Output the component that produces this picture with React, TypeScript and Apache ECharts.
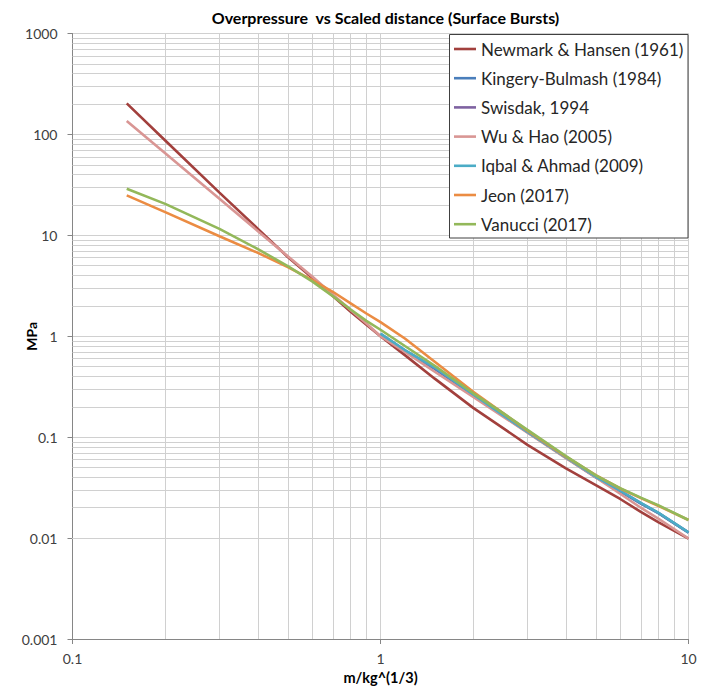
import React, { useEffect, useRef } from 'react';
import * as echarts from 'echarts';

// Scaled distance Z (m/kg^(1/3)) sample points
const xs = [0.15, 0.2, 0.3, 0.4, 0.5, 0.6, 0.7, 0.8, 0.9, 1, 1.2, 1.5, 2, 2.5, 3, 4, 5, 6, 7, 8, 10];

// Overpressure (MPa) per model
const newmark = [203, 87, 26.5, 11.6, 6.1, 3.8, 2.5, 1.75, 1.3, 1.0, 0.65, 0.38, 0.195, 0.123, 0.084, 0.049, 0.0335, 0.0244, 0.0182, 0.0143, 0.0099];
const kingery = [null, null, null, null, null, null, null, null, null, 1.04, 0.71, 0.475, 0.26, 0.163, 0.112, 0.0625, 0.040, 0.029, 0.022, 0.0176, 0.0113];
const swisdak = [null, null, null, null, null, null, null, null, null, 1.055, 0.725, 0.487, 0.264, 0.165, 0.113, 0.063, 0.0404, 0.0294, 0.0222, 0.0177, 0.0114];
const wuHao = [136, 65, 23, 11, 6.2, 3.9, 2.6, 1.82, 1.34, 1.0, 0.70, 0.445, 0.25, 0.16, 0.111, 0.062, 0.040, 0.0275, 0.020, 0.0155, 0.0099];
const iqbal = [null, null, null, null, null, null, null, null, null, 1.06, 0.73, 0.49, 0.265, 0.165, 0.113, 0.063, 0.0405, 0.0295, 0.0223, 0.0178, 0.0114];
const jeon = [24.9, 17.0, 9.8, 6.7, 4.85, 3.62, 2.76, 2.12, 1.68, 1.38, 0.95, 0.56, 0.282, 0.173, 0.116, 0.064, 0.042, 0.031, 0.0249, 0.0208, 0.0151];
const vanucci = [29.0, 20.5, 11.6, 7.3, 4.95, 3.5, 2.5, 1.84, 1.42, 1.16, 0.80, 0.51, 0.272, 0.173, 0.118, 0.065, 0.0418, 0.0313, 0.0252, 0.0211, 0.0151];

const seriesNames = [
  'Newmark & Hansen (1961)',
  'Kingery-Bulmash (1984)',
  'Swisdak, 1994',
  'Wu & Hao (2005)',
  'Iqbal & Ahmad (2009)',
  'Jeon (2017)',
  'Vanucci (2017)',
];
const seriesValues = [newmark, kingery, swisdak, wuHao, iqbal, jeon, vanucci];
const seriesColors = ['#A2403D', '#4A7EBB', '#7E62A1', '#D99694', '#4BACC6', '#EB8C43', '#93B85A'];

// Tick labels
const xTickLabels = ['0.1', '1', '10'];
const yTickLabels = ['0.001', '0.01', '0.1', '1', '10', '100', '1000'];

// Minor log grid positions
const xMinor = [0.2, 0.3, 0.4, 0.5, 0.6, 0.7, 0.8, 0.9, 2, 3, 4, 5, 6, 7, 8, 9];
const yDecades = [0.001, 0.01, 0.1, 1, 10, 100];
const minorMult = [2, 3, 4, 5, 6, 7, 8, 9];

const FONT = 'Lato';
const GRID = '#d0d0d0';
const AXIS = '#868686';

export default function App() {
  const ref = useRef<HTMLDivElement>(null);

  useEffect(() => {
    document.body.style.margin = '0';
    const chart = echarts.init(ref.current as HTMLDivElement, null, { renderer: 'svg' });

    const yMinor: number[] = [];
    yDecades.forEach((d) => minorMult.forEach((m) => yMinor.push(d * m)));

    const dataSeries = seriesNames.map((name, si) => ({
      type: 'line',
      name,
      data: xs
        .map((x, i) => [x, seriesValues[si][i]])
        .filter((p) => p[1] !== null),
      showSymbol: false,
      symbol: 'none',
      smooth: false,
      z: 2,
      lineStyle: { color: seriesColors[si], width: 2.6 },
      itemStyle: { color: seriesColors[si] },
      emphasis: { disabled: true },
    }));

    const option: any = {
      animation: false,
      backgroundColor: '#ffffff',
      title: {
        text: 'Overpressure  vs Scaled distance (Surface Bursts)',
        left: 380.5,
        top: 4,
        textAlign: 'center',
        textStyle: { fontFamily: FONT, fontWeight: 'bold', fontSize: 16, color: '#000' },
      },
      grid: {
        left: 72.5,
        right: 24.5,
        top: 33.5,
        bottom: 49,
        containLabel: false,
        outerBoundsMode: 'none',
      },
      xAxis: {
        type: 'log',
        logBase: 10,
        min: 0.1,
        max: 10,
        name: 'm/kg^(1/3)',
        nameLocation: 'middle',
        nameGap: 28,
        nameTextStyle: { fontFamily: FONT, fontWeight: 'bold', fontSize: 14.5, color: '#000' },
        axisLine: { show: true, onZero: false, lineStyle: { color: AXIS, width: 1 } },
        axisTick: { show: true, length: 5, lineStyle: { color: AXIS } },
        axisLabel: {
          fontFamily: FONT,
          fontSize: 14,
          color: '#404040',
          margin: 12,
          formatter: (v: number) => xTickLabels[Math.round(Math.log10(v)) + 1],
        },
        splitLine: { show: true, lineStyle: { color: GRID, width: 1 } },
      },
      yAxis: {
        type: 'log',
        logBase: 10,
        min: 0.001,
        max: 1000,
        name: 'MPa',
        nameLocation: 'middle',
        nameGap: 34,
        nameMoveOverlap: false,
        nameRotate: 90,
        nameTextStyle: { fontFamily: FONT, fontWeight: 'bold', fontSize: 14, color: '#000' },
        axisLine: { show: true, lineStyle: { color: AXIS, width: 1 } },
        axisTick: { show: true, length: 5, lineStyle: { color: AXIS } },
        axisLabel: {
          fontFamily: FONT,
          fontSize: 14,
          color: '#404040',
          margin: 15,
          formatter: (v: number) => yTickLabels[Math.round(Math.log10(v)) + 3],
        },
        splitLine: { show: true, lineStyle: { color: GRID, width: 1 } },
      },
      legend: {
        data: seriesNames,
        orient: 'vertical',
        left: 454,
        top: 39,
        padding: 0,
        icon: 'rect',
        itemWidth: 22,
        itemHeight: 2.6,
        itemGap: 9.2,
        z: 10,
        selectedMode: false,
        textStyle: { fontFamily: FONT, fontSize: 17, color: '#262626', lineHeight: 20 },
      },
      graphic: [
        {
          type: 'rect',
          z: 8,
          shape: { x: 449.5, y: 34.5, width: 238.5, height: 203.5 },
          style: { fill: '#ffffff', stroke: '#404040', lineWidth: 1 },
        },
      ],
      series: [
        {
          type: 'line',
          name: '__grid',
          data: [],
          silent: true,
          z: 1,
          markLine: {
            silent: true,
            z: 1,
            symbol: ['none', 'none'],
            label: { show: false },
            emphasis: { disabled: true },
            lineStyle: { color: GRID, width: 1, type: 'solid' },
            data: [
              ...xMinor.map((v) => ({ xAxis: v })),
              ...yMinor.map((v) => ({ yAxis: v })),
            ],
          },
        },
        ...dataSeries,
      ],
    };

    chart.setOption(option);
    return () => chart.dispose();
  }, []);

  return <div ref={ref} style={{ width: 713, height: 688 }} />;
}
